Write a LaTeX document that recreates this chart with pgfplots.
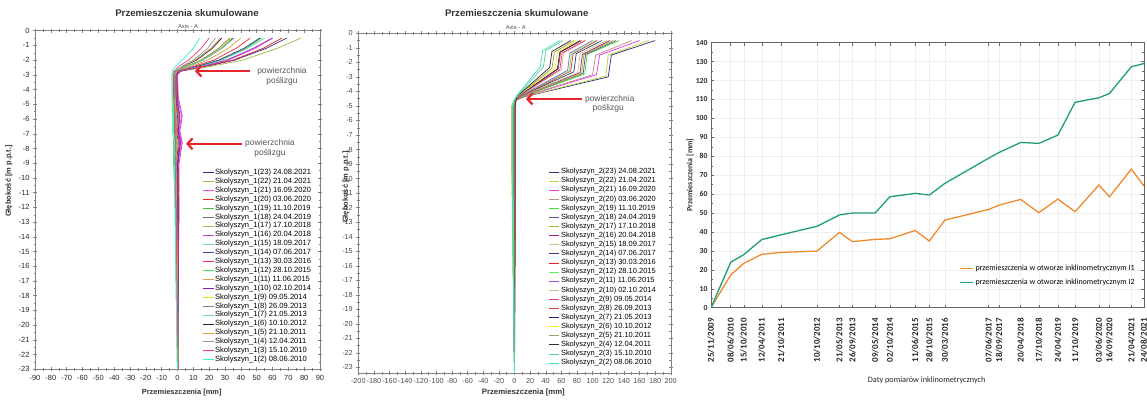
\documentclass[border=0pt]{standalone}
\usepackage{fontspec}
\setmainfont{Liberation Sans}
\newfontfamily\carlito{Carlito}
\usepackage{pgfplots}
\usepackage{pgfplotstable}
\pgfplotsset{compat=1.18}
\usetikzlibrary{arrows.meta}

% panel 1 colours
\definecolor{a23}{HTML}{2B2B8C}\definecolor{a22}{HTML}{A8B848}\definecolor{a21}{HTML}{FF40FF}
\definecolor{a20}{HTML}{E02828}\definecolor{a19}{HTML}{38C838}\definecolor{a18}{HTML}{6E6E7E}
\definecolor{a17}{HTML}{B4B450}\definecolor{a16}{HTML}{C040E0}\definecolor{a15}{HTML}{60DCA0}
\definecolor{a14}{HTML}{3050B0}\definecolor{a13}{HTML}{F03040}\definecolor{a12}{HTML}{40F040}
\definecolor{a11}{HTML}{E0A040}\definecolor{a10}{HTML}{8020C0}\definecolor{a9}{HTML}{E8E020}
\definecolor{a8}{HTML}{A08060}\definecolor{a7}{HTML}{60E0B0}\definecolor{a6}{HTML}{202050}
\definecolor{a5}{HTML}{E0A030}\definecolor{a4}{HTML}{80A0B0}\definecolor{a3}{HTML}{F04080}
\definecolor{a2}{HTML}{40F0D0}
% panel 2 colours
\definecolor{b23}{HTML}{303080}\definecolor{b22}{HTML}{C0D040}\definecolor{b21}{HTML}{E040E0}
\definecolor{b20}{HTML}{C09080}\definecolor{b19}{HTML}{40E040}\definecolor{b18}{HTML}{5050A0}
\definecolor{b17}{HTML}{B0B020}\definecolor{b16}{HTML}{A02080}\definecolor{b15}{HTML}{C8C880}
\definecolor{b14}{HTML}{304080}\definecolor{b13}{HTML}{F02020}\definecolor{b12}{HTML}{60F060}
\definecolor{b11}{HTML}{9060D0}\definecolor{b10}{HTML}{D0C090}\definecolor{b9}{HTML}{E04080}
\definecolor{b8}{HTML}{D04040}\definecolor{b7}{HTML}{202070}\definecolor{b6}{HTML}{F0F000}
\definecolor{b5}{HTML}{A0A060}\definecolor{b4}{HTML}{303030}\definecolor{b3}{HTML}{60D0A0}
\definecolor{b2}{HTML}{40E0C0}
\definecolor{arrred}{HTML}{E8262A}
\definecolor{txtgray}{HTML}{555555}
\definecolor{orI}{HTML}{EE8A2E}
\definecolor{grI}{HTML}{1E9E74}

\pgfplotstableread{
d     s23  s22  s21 s20 s19  s18  s17 s16 s15  s14  s13 s12  s11  s10  s9   s8   s7   s6   s5   s4   s3   s2
-0.5  69   78   60  66  53   60   52  60  55   52   46  34   40   35   34   33   36   28   27   24   20   14
-1.2  56   63   49  54  43   48   42  48  44   42   37  27   32   28   27   26   28   22   21   19   15   10
-2.0  36   41   32  35  27   31   26  31  28   26   23  15   19   16   15   15   16   12   11   10   7    3
-2.4  19   22   17  18  14   16   13  16  14   13   11  6    9    7    6    6    7    4    4    3    1    -1
-2.75 1    2    2   2   0    1    0   1.5 0    0.5  0   -2.5 -1   -0.5 -1.5 -0.5 -1.5 -1   -0.5 -1   -2   -3.5
-3.0  -1.5 -1   -0.5 0  -1.5 -0.5 -2  0   -1.5 -1   -1  -3.5 -2   -1.5 -2.5 -1.5 -2.5 -2   -1.5 -2   -2.5 -3.5
-4.5  -1.5 -1   0   0   -1.5 -0.5 -2  0.5 -1.5 -1   -1  -3.5 -2   -1   -2.5 -1.5 -2.5 -2   -1.5 -2   -2.5 -3
-5.8  -1   -0.5 2.5 1   -1   1.5  -1.5 3  -1   0    0.5 -3   -1.5 1.5  -2   -1   -2   -1.5 -1   -1.5 -2   -2.5
-6.8  -1.2 -1   1   0.5 -1.5 0.5  -2  1.5 -1.5 -0.5 0   -3   -1.5 0.5  -2   -1   -2   -1.5 -1   -1.5 -2   -2.5
-7.6  -0.5 -0.2 2.5 1.5 -0.5 1.5  -1  3   -0.5 0.5  1   -2.5 -1   2    -1.5 -0.5 -1.5 -1   -0.5 -1   -1.5 -2
-9    -1.5 -1   0.5 0.5 -1.5 0    -2  1   -1   -0.5 0   -2.5 -1.5 0    -2   -1   -2   -1.5 -1   -1.5 -2   -2
-12   -0.5 -0.5 0.5 1   -1   0    -1  0.8 -0.5 0    0.5 -1.5 -1   0.5  -1.5 -0.5 -1.5 -1   -0.5 -1   -1   -1.5
-16   0    0    0.5 0.5 -0.5 0    -0.5 0.5 0  0    0.5 -1   -0.5 0.5  -1   0    -1   -0.5 0    -0.5 -0.5 -1
-20   0.3  0.3  0.5 0.5 0    0.3  0   0.5 0    0.3  0.5 -0.5 0    0.5  -0.5 0.3  -0.5 0    0.3  0    0    -0.5
-23   0.5  0.5  0.5 0.5 0.3  0.5  0.3 0.5 0.3  0.5  0.5 0    0.3  0.5  0    0.5  0    0.3  0.5  0.3  0.3  0
}\profileone

\pgfplotstableread{
t     i1    i2
0     0     0
195   17.3  24
324   23.4  28
503   28.2  36
695   29.2  38.5
1050  29.9  43
1273  39.8  49
1401  34.9  50
1626  36.1  50
1772  36.4  58.6
2024  40.8  60.4
2163  35.2  59.5
2317  46.3  65.7
2751  51.9  79
2854  54.2  82
3068  57.2  87.3
3248  50.2  86.8
3437  57.4  91.2
3607  50.7  108.5
3843  64.8  110.9
3948  58.6  113.2
4165  73.2  127.3
4290  64.3  129
}\timeseries

\pgfplotsset{
  profile/.style={
    scale only axis, anchor=south west,
    axis line style={gray}, tick style={gray, line width=0.4pt},
    tick align=center, major tick length=4bp, minor tick length=2.5bp,
    minor x tick num=1, minor y tick num=1,
    /pgf/number format/assume math mode=true,
    legend cell align=left,
    legend image code/.code={\draw[##1, line width=0.9bp] (0bp,0bp) -- (11bp,0bp);},
    every axis plot/.append style={line width=0.75bp},
  },
}

\begin{document}
\begin{tikzpicture}
\useasboundingbox (0bp,0bp) rectangle (1147bp,406bp);

%================ PANEL 1 =================
\begin{axis}[profile,
  at={(35bp,36.7bp)}, width=285bp, height=338.6bp,
  xmin=-90, xmax=90, ymin=-23, ymax=0,
  xtick={-90,-80,...,90}, ytick={-23,-22,...,0},
  tick label style={font=\fontsize{7.5}{8}\selectfont, text=black!85},
  legend style={at={(rel axis cs:0.586,0.594)}, anchor=north west, draw=none, fill=none,
    font=\fontsize{7.6}{8}\selectfont, inner sep=0pt, row sep=0pt,
    nodes={inner ysep=0pt, inner xsep=1bp, text height=6.2bp, text depth=2.7bp}},
]
\foreach \s in {23,22,...,2}{
  \edef\tmp{\noexpand\addplot[a\s] table[x=s\s,y=d]{\noexpand\profileone};}\tmp
}
\legend{Skolyszyn\_1(23) 24.08.2021,Skolyszyn\_1(22) 21.04.2021,Skolyszyn\_1(21) 16.09.2020,Skolyszyn\_1(20) 03.06.2020,Skolyszyn\_1(19) 11.10.2019,Skolyszyn\_1(18) 24.04.2019,Skolyszyn\_1(17) 17.10.2018,Skolyszyn\_1(16) 20.04.2018,Skolyszyn\_1(15) 18.09.2017,Skolyszyn\_1(14) 07.06.2017,Skolyszyn\_1(13) 30.03.2016,Skolyszyn\_1(12) 28.10.2015,Skolyszyn\_1(11) 11.06.2015,Skolyszyn\_1(10) 02.10.2014,Skolyszyn\_1(9) 09.05.2014,Skolyszyn\_1(8) 26.09.2013,Skolyszyn\_1(7) 21.05.2013,Skolyszyn\_1(6) 10.10.2012,Skolyszyn\_1(5) 21.10.2011,Skolyszyn\_1(4) 12.04.2011,Skolyszyn\_1(3) 15.10.2010,Skolyszyn\_1(2) 08.06.2010}
\draw[arrred, line width=2.2bp, -{Straight Barb[length=5bp,width=11bp]}] (axis cs:45.8,-2.74) -- (axis cs:11,-2.74);
\draw[arrred, line width=2.2bp, -{Straight Barb[length=5bp,width=11bp]}] (axis cs:40.7,-7.68) -- (axis cs:5.4,-7.68);
\node[txtgray, font=\fontsize{8.5}{9}\selectfont] at (axis cs:66,-2.74) {powierzchnia};
\node[txtgray, font=\fontsize{8.5}{9}\selectfont] at (axis cs:66,-3.42) {poślizgu};
\node[txtgray, font=\fontsize{8.5}{9}\selectfont] at (axis cs:58.4,-7.68) {powierzchnia};
\node[txtgray, font=\fontsize{8.5}{9}\selectfont] at (axis cs:58.4,-8.33) {poślizgu};
\end{axis}

%================ PANEL 2 =================
\begin{axis}[profile,
  at={(358.3bp,32.7bp)}, width=312.4bp, height=340bp,
  xmin=-200, xmax=200, ymin=-23.4, ymax=0,
  xtick={-200,-180,...,200}, ytick={-23,-22,...,0},
  tick label style={font=\fontsize{7.3}{8}\selectfont, text=black!70},
  legend style={at={(rel axis cs:0.607,0.606)}, anchor=north west, draw=none, fill=none,
    font=\fontsize{7.5}{8}\selectfont, inner sep=0pt, row sep=0pt,
    nodes={inner ysep=0pt, inner xsep=2bp, text height=6.3bp, text depth=2.8bp}},
  legend image code/.code={\draw[#1, line width=0.9bp] (0bp,0bp) -- (10bp,0bp);},
]
\addplot[b23] coordinates {(180,-0.5) (124,-1.5) (120,-3.0) (14,-4.35) (1,-4.6) (-2,-5.0) (-2,-9) (-1.5,-14) (-0.5,-19) (0,-23.4)};
\addplot[b22] coordinates {(172,-0.5) (120,-1.5) (117,-2.95) (13,-4.35) (0.5,-4.6) (-2.5,-5.0) (-2.5,-9) (-2,-14) (-1,-19) (0,-23.4)};
\addplot[b21] coordinates {(160,-0.5) (109,-1.5) (105,-2.85) (12,-4.35) (1,-4.6) (-1.5,-5.0) (-1.5,-9) (-1,-14) (-0.5,-19) (0,-23.4)};
\addplot[b20] coordinates {(150,-0.5) (104,-1.5) (100,-2.85) (11,-4.35) (1.5,-4.6) (-1,-5.0) (-1,-9) (-0.5,-14) (0,-19) (0,-23.4)};
\addplot[b19] coordinates {(134,-0.5) (93,-1.45) (90,-2.8) (10,-4.35) (0,-4.6) (-3,-5.0) (-3,-9) (-2,-14) (-1,-19) (0,-23.4)};
\addplot[b18] coordinates {(130,-0.5) (91,-1.45) (88,-2.75) (9,-4.35) (0.5,-4.6) (-2,-5.0) (-2,-9) (-1.5,-14) (-0.5,-19) (0,-23.4)};
\addplot[b17] coordinates {(126,-0.5) (89,-1.45) (86,-2.75) (9,-4.35) (-0.5,-4.6) (-3.5,-5.0) (-3.5,-9) (-2.5,-14) (-1,-19) (0,-23.4)};
\addplot[b16] coordinates {(122,-0.5) (87,-1.45) (84,-2.7) (8,-4.35) (1.5,-4.6) (0,-5.0) (0,-9) (0,-14) (0,-19) (0,-23.4)};
\addplot[b15] coordinates {(118,-0.5) (84,-1.4) (81,-2.7) (8,-4.35) (0,-4.6) (-2.5,-5.0) (-2.5,-9) (-2,-14) (-1,-19) (0,-23.4)};
\addplot[b14] coordinates {(112,-0.5) (79,-1.4) (76,-2.65) (7,-4.35) (1,-4.6) (-1.5,-5.0) (-1.5,-9) (-1,-14) (-0.5,-19) (0,-23.4)};
\addplot[b13] coordinates {(106,-0.5) (75,-1.4) (72,-2.6) (7,-4.35) (2,-4.6) (0.5,-5.0) (0.5,-9) (0.5,-14) (0,-19) (0,-23.4)};
\addplot[b12] coordinates {(104,-0.5) (73,-1.4) (70,-2.6) (6,-4.35) (-0.5,-4.6) (-3,-5.0) (-3,-9) (-2,-14) (-1,-19) (0,-23.4)};
\addplot[b11] coordinates {(100,-0.5) (71,-1.35) (68,-2.55) (6,-4.35) (0.5,-4.6) (-1.5,-5.0) (-1.5,-9) (-1,-14) (-0.5,-19) (0,-23.4)};
\addplot[b10] coordinates {(92,-0.5) (63,-1.35) (60,-2.5) (5,-4.35) (1,-4.6) (-1,-5.0) (-1,-9) (-1,-14) (-0.5,-19) (0,-23.4)};
\addplot[b9] coordinates {(90,-0.5) (61,-1.35) (58,-2.5) (5,-4.35) (1.5,-4.6) (0,-5.0) (0,-9) (0,-14) (0,-19) (0,-23.4)};
\addplot[b8] coordinates {(86,-0.5) (59,-1.3) (56,-2.45) (5,-4.35) (1,-4.6) (-0.5,-5.0) (-0.5,-9) (-0.5,-14) (0,-19) (0,-23.4)};
\addplot[b7] coordinates {(84,-0.5) (58,-1.3) (55,-2.45) (4,-4.35) (0.5,-4.6) (-1,-5.0) (-1,-9) (-1,-14) (-0.5,-19) (0,-23.4)};
\addplot[b6] coordinates {(80,-0.5) (55,-1.3) (52,-2.4) (4,-4.35) (0,-4.6) (-2,-5.0) (-2,-9) (-1.5,-14) (-0.5,-19) (0,-23.4)};
\addplot[b5] coordinates {(76,-0.5) (51,-1.3) (48,-2.4) (4,-4.35) (1,-4.6) (-0.5,-5.0) (-0.5,-9) (-0.5,-14) (0,-19) (0,-23.4)};
\addplot[b4] coordinates {(72,-0.5) (48,-1.25) (45,-2.35) (3,-4.35) (2,-4.6) (1,-5.0) (1,-9) (1,-14) (0.5,-19) (0,-23.4)};
\addplot[b3] coordinates {(62,-0.5) (40,-1.2) (37,-2.3) (3,-4.35) (0,-4.6) (-2,-5.0) (-2,-9) (-1.5,-14) (-0.5,-19) (0,-23.4)};
\addplot[b2] coordinates {(58,-0.5) (36,-1.2) (33,-2.3) (2,-4.35) (-0.5,-4.6) (-3,-5.0) (-3,-9) (-2,-14) (-1,-19) (0,-23.4)};
\legend{Skolyszyn\_2(23) 24.08.2021,Skolyszyn\_2(22) 21.04.2021,Skolyszyn\_2(21) 16.09.2020,Skolyszyn\_2(20) 03.06.2020,Skolyszyn\_2(19) 11.10.2019,Skolyszyn\_2(18) 24.04.2019,Skolyszyn\_2(17) 17.10.2018,Skolyszyn\_2(16) 20.04.2018,Skolyszyn\_2(15) 18.09.2017,Skolyszyn\_2(14) 07.06.2017,Skolyszyn\_2(13) 30.03.2016,Skolyszyn\_2(12) 28.10.2015,Skolyszyn\_2(11) 11.06.2015,Skolyszyn\_2(10) 02.10.2014,Skolyszyn\_2(9) 09.05.2014,Skolyszyn\_2(8) 26.09.2013,Skolyszyn\_2(7) 21.05.2013,Skolyszyn\_2(6) 10.10.2012,Skolyszyn\_2(5) 21.10.2011,Skolyszyn\_2(4) 12.04.2011,Skolyszyn\_2(3) 15.10.2010,Skolyszyn\_2(2) 08.06.2010}
\draw[arrred, line width=2.2bp, -{Straight Barb[length=5bp,width=11bp]}] (axis cs:86,-4.52) -- (axis cs:14.7,-4.52);
\node[txtgray, font=\fontsize{8.5}{9}\selectfont] at (axis cs:122,-4.52) {powierzchnia};
\node[txtgray, font=\fontsize{8.5}{9}\selectfont] at (axis cs:120,-5.18) {poślizgu};
\end{axis}

%================ PANEL 3 =================
\begin{axis}[
  at={(711bp,98.3bp)}, anchor=south west, scale only axis, width=433bp, height=265bp,
  xmin=0, xmax=4290, ymin=0, ymax=140,
  xtick={0,195,324,503,695,1050,1273,1401,1626,1772,2024,2163,2317,2751,2854,3068,3248,3437,3607,3843,3948,4165,4290},
  xticklabels={25/11/2009,08/06/2010,15/10/2010,12/04/2011,21/10/2011,10/10/2012,21/05/2013,26/09/2013,09/05/2014,02/10/2014,11/06/2015,28/10/2015,30/03/2016,07/06/2017,18/09/2017,20/04/2018,17/10/2018,24/04/2019,11/10/2019,03/06/2020,16/09/2020,21/04/2021,24/08/2021},
  ytick={0,10,...,140}, minor y tick num=1,
  grid=major, major grid style={gray!13, line width=0.4pt},
  axis line style={black!60}, tick style={black!60, line width=0.4pt},
  tick align=inside, major tick length=3bp, minor tick length=2bp,
  xticklabel shift=7bp,
  xticklabel style={rotate=90, anchor=east, font=\carlito\bfseries\fontsize{9}{9}\selectfont, text=black!85},
  yticklabel style={font=\carlito\bfseries\fontsize{7.7}{8}\selectfont, text=black!85},
  /pgf/number format/assume math mode=true,
  legend cell align=left,
  legend style={at={(rel axis cs:0.573,0.165)}, anchor=north west, draw=none, fill=none,
    font=\carlito\fontsize{8}{9}\selectfont, row sep=5.5bp, inner sep=0pt,
    nodes={inner ysep=0.5bp, inner xsep=2bp, text height=6bp, text depth=1.8bp}},
  legend image code/.code={\draw[#1, line width=1.2bp] (0bp,0bp) -- (13bp,0bp);},
]
\addplot[orI, line width=1.3bp] table[x=t,y=i1]{\timeseries};
\addlegendentry{przemieszczenia w otworze inklinometrycznym I1}
\addplot[grI, line width=1.3bp] table[x=t,y=i2]{\timeseries};
\addlegendentry{przemieszczenia w otworze inklinometrycznym I2}
\end{axis}

%================ TEXT =================
\node[font=\bfseries\fontsize{9.7}{10}\selectfont, text=black!80] at (187bp,393.3bp) {Przemieszczenia skumulowane};
\node[font=\fontsize{5.8}{6}\selectfont, text=black!70] at (188bp,380bp) {Axis - A};
\node[font=\bfseries\fontsize{9.7}{10}\selectfont, text=black!80] at (516.7bp,392.7bp) {Przemieszczenia skumulowane};
\node[font=\fontsize{5.8}{6}\selectfont, text=black!70] at (515.7bp,379bp) {Axis - A};
\node[font=\bfseries\fontsize{7.5}{8}\selectfont, text=black!80] at (181.7bp,13bp) {Przemieszczenia [mm]};
\node[font=\bfseries\fontsize{7.8}{8}\selectfont, text=black!80] at (523.3bp,13.3bp) {Przemieszczenia [mm]};
\node[font=\bfseries\fontsize{7.5}{8}\selectfont, text=black!80, rotate=90] at (9bp,225bp) {Głębokość [m p.p.t.]};
\node[font=\bfseries\fontsize{7.5}{8}\selectfont, text=black!80, rotate=90] at (346bp,219bp) {Głębokość [m p.p.t.]};
\node[font=\carlito\bfseries\fontsize{8}{8}\selectfont, text=black!80, rotate=90] at (690bp,231bp) {Przemieszczenia [mm]};
\node[font=\carlito\fontsize{8.25}{9}\selectfont, text=black!85] at (926.7bp,26bp) {Daty pomiarów inklinometrycznych};
\end{tikzpicture}
\end{document}
